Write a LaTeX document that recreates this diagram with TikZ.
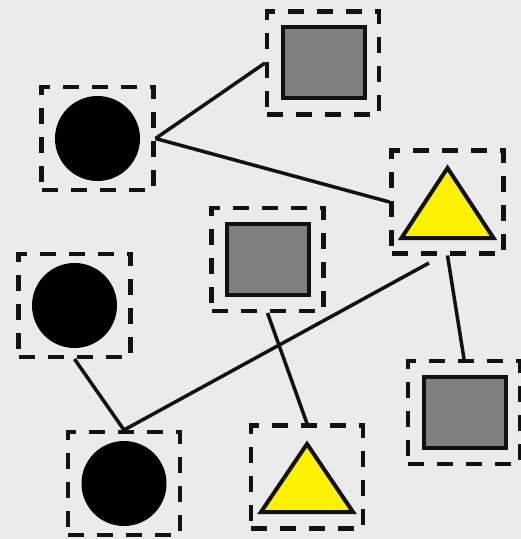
\documentclass[tikz,border=0pt]{standalone}
\usetikzlibrary{calc}
\definecolor{bgc}{HTML}{EBEBEB}
\definecolor{ink}{HTML}{111111}
\definecolor{sqgray}{HTML}{808080}
\definecolor{triyel}{HTML}{FFF200}
\begin{document}
\begin{tikzpicture}[x=1pt,y=-1pt,
  framebox/.style={draw=ink,line width=4.3pt,dash pattern=on 16pt off 13pt,
    minimum width=112pt,minimum height=103pt,inner sep=0pt,outer sep=2pt},
  sqshape/.style={draw=ink,fill=sqgray,line width=4pt,minimum width=82pt,
    minimum height=71pt,inner sep=0pt},
  dotshape/.style={circle,fill=black,minimum size=85pt,inner sep=0pt},
  trishape/.style={draw=ink,fill=triyel,line width=4pt,line join=miter},
  link/.style={draw=ink,line width=3.5pt}]
\fill[bgc] (0,0) rectangle (521,539);
\useasboundingbox (0,0) rectangle (521,539);
% frames
\node[framebox] (A) at (97.5,138.5) {};
\node[framebox] (B) at (323,63) {};
\node[framebox] (C) at (447.5,202) {};
\node[framebox] (D) at (267.5,259.5) {};
\node[framebox] (E) at (74.5,305.5) {};
\node[framebox] (F) at (464,412.5) {};
\node[framebox] (G) at (124,483.5) {};
\node[framebox] (H) at (307,477) {};
% contents
\node[dotshape] (A1) at (A) {};
\node[dotshape] (E1) at (E) {};
\node[dotshape] (G1) at (G) {};
\node[sqshape] (B1) at ($(B)+(0.5,-0.5)$) {};
\node[sqshape] (D1) at ($(D)+(0,-0.5)$) {};
\node[sqshape] (F1) at ($(F)+(1,0)$) {};
\draw[trishape] ($(C)+(0,-34)$) -- ($(C)+(46,36)$) -- ($(C)+(-46,36)$) -- cycle;
\draw[trishape] ($(H)+(0,-33)$) -- ($(H)+(46,35)$) -- ($(H)+(-46,35)$) -- cycle;
% connectors
\coordinate (c1) at (429,263);
\draw[link] (A.east) -- (B.west);
\draw[link] (A.east) -- (C.west);
\draw[link] (C.south) -- (F.north);
\draw[link] (c1) -- (G.north);
\draw[link] (D.south) -- (H.north);
\draw[link] (E.south) -- (G.north);
\end{tikzpicture}
\end{document}
